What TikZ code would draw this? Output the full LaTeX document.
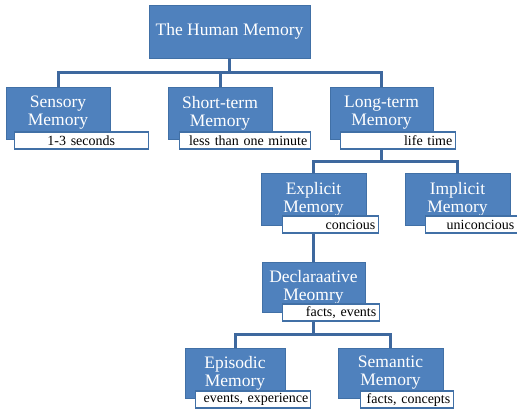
\documentclass[tikz,border=0pt]{standalone}
\usepackage{fontspec}
\setmainfont{Liberation Serif}
\usetikzlibrary{positioning}
\definecolor{memblue}{RGB}{79,129,189}
\definecolor{memedge}{RGB}{65,112,166}
\definecolor{memline}{RGB}{62,104,158}

\begin{document}
\begin{tikzpicture}[
  x=1pt, y=-1pt,
  box/.style = {rectangle, draw=memedge, fill=memblue, line width=0.8pt,
                minimum height=52pt, text=white, align=center, inner sep=2pt,
                font=\fontsize{17.5}{18}\selectfont},
  tag/.style = {rectangle, draw=memedge, fill=white, line width=1.4pt,
                minimum height=17pt, inner xsep=3pt, inner ysep=0pt,
                align=right, font=\fontsize{14}{15}\selectfont},
  link/.style = {draw=memline, line width=3pt}
]
  \useasboundingbox (0,0) rectangle (517,410);

  % top
  \node[box, minimum width=161pt, minimum height=53pt] (human) at (229.5,31.5) {The Human Memory};

  % first level
  \node[box, minimum width=104pt] (sensory) at (58,113)    {Sensory\\Memory};
  \node[box, minimum width=104pt] (short)   at (220,113)   {Short-term\\Memory};
  \node[box, minimum width=103pt] (long)    at (381.5,113) {Long-term\\Memory};
  \node[tag, text width=128pt, align=center, below right=-8pt and 8pt of sensory.south west] (senssub) {1-3 seconds};
  \node[tag, text width=125pt, below right=-8pt and 11pt of short.south west] (shortsub) {less than one minute};
  \node[tag, text width=109pt, below right=-8pt and 10pt of long.south west]  (longsub)  {life time};

  % long-term branch
  \node[box, minimum width=105pt] (explicit) at (313.5,199) {Explicit\\Memory};
  \node[box, minimum width=105pt] (implicit) at (457.5,199) {Implicit\\Memory};
  \node[tag, text width=90pt, below right=-10pt and 21pt of explicit.south west] (expsub) {concious};
  \node[tag, text width=86pt, below right=-10pt and 20pt of implicit.south west] (impsub) {uniconcious};

  % explicit branch
  \node[box, minimum width=103pt, minimum height=50pt] (declar) at (313.5,287) {Declaraative\\Meomry};
  \node[tag, text width=91pt, below right=-9pt and 20pt of declar.south west] (declsub) {facts, events};

  \node[box, minimum width=100pt, minimum height=50pt] (episodic) at (235,373)   {Episodic\\Memory};
  \node[box, minimum width=105pt, minimum height=50pt] (semantic) at (390.5,373) {Semantic\\Memory};
  \node[tag, text width=111pt, inner xsep=2pt, below right=-8pt and 10pt of episodic.south west] (episub) {events,~experience};
  \node[tag, text width=87pt,  below right=-8pt and 22pt of semantic.south west] (semsub) {facts, concepts};

  % connectors
  \draw[link] (human.south) -- ++(0,14) coordinate (bus1);
  \draw[link] (sensory.north) |- (bus1) -| (long.north);
  \draw[link] (short.north) -- (short.north |- bus1);

  \draw[link] (longsub.south -| long.south) -- ++(0,12) coordinate (bus2);
  \draw[link] (explicit.north) |- (bus2) -| (implicit.north);

  \draw[link] (declar.north |- expsub.south) -- (declar.north);

  \draw[link] (declsub.south -| declar.south) -- ++(0,13) coordinate (bus3);
  \draw[link] (episodic.north) |- (bus3) -| (semantic.north);
\end{tikzpicture}
\end{document}
